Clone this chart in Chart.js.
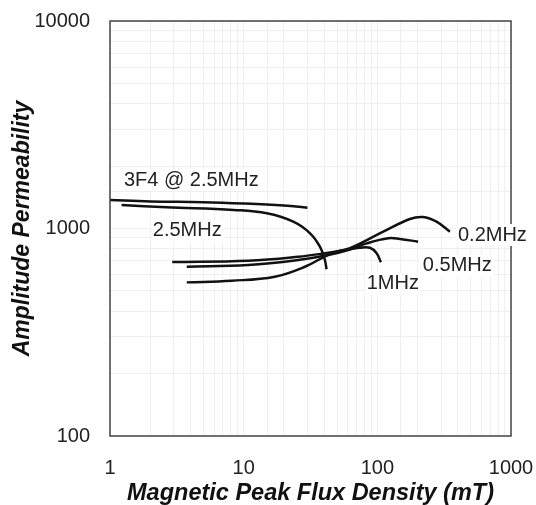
<!DOCTYPE html>
<html>
<head>
<meta charset="utf-8">
<script src="https://cdn.jsdelivr.net/npm/chart.js@4"></script>
<style>
  body { margin: 0; background: #fff; }
</style>
</head>
<body>
<canvas id="chart" width="536" height="505"></canvas>
<script>
// flux density (mT) / amplitude permeability
const f3F4X = [1, 2, 5, 10, 20, 30];
const f3F4Y = [1372, 1350, 1340, 1320, 1290, 1260];

const f25X = [1.22, 2.65, 8.4, 14.9, 23.5, 31.4, 37.2, 40.5, 41.7];
const f25Y = [1298, 1265, 1228, 1184, 1079, 948, 817, 705, 636];

const f1X = [2.92, 10.8, 25.6, 40.5, 57.2, 74.1, 88.1, 98.8, 106.4];
const f1Y = [690, 700, 731, 760, 788, 808, 808, 760, 687];

const f05X = [3.75, 10.8, 25.6, 42.9, 62.4, 83.2, 120.6, 147.6, 202];
const f05Y = [654, 667, 705, 745, 792, 848, 897, 890, 864];

const f02X = [3.75, 8.13, 17.1, 28.7, 45.5, 62.4, 110.7, 175.3, 220, 277, 349];
const f02Y = [550, 560, 586, 654, 760, 803, 965, 1111, 1136, 1079, 965];

const xTickLabels = [1, 10, 100, 1000];
const yTickLabels = [100, 1000, 10000];

// curve labels: text, left x, middle y (data units)
const labelText = ["3F4 @ 2.5MHz", "2.5MHz", "0.2MHz", "0.5MHz", "1MHz"];
const labelX = [1.27, 2.09, 401, 219, 83.2];
const labelY = [1713, 973, 930, 667, 542];

const FONT = "'Liberation Sans', Arial, sans-serif";

function pts(xs, ys) {
  return xs.map((x, i) => ({ x, y: ys[i] }));
}

function curve(xs, ys) {
  return {
    data: pts(xs, ys),
    showLine: true,
    borderColor: "#111",
    borderWidth: 2.5,
    pointRadius: 0,
    tension: 0.4,
    fill: false
  };
}

const frameAndLabels = {
  id: "frameAndLabels",
  afterDatasetsDraw(chart) {
    const { ctx, chartArea: a, scales } = chart;
    ctx.save();
    ctx.strokeStyle = "#444";
    ctx.lineWidth = 1.5;
    ctx.strokeRect(a.left, a.top, a.right - a.left, a.bottom - a.top);

    ctx.font = "20px " + FONT;
    ctx.textBaseline = "middle";
    ctx.textAlign = "left";
    labelText.forEach((t, i) => {
      const px = scales.x.getPixelForValue(labelX[i]);
      const py = scales.y.getPixelForValue(labelY[i]);
      const w = ctx.measureText(t).width;
      ctx.fillStyle = "#fff";
      ctx.fillRect(px - 2, py - 11, w + 4, 22);
      ctx.fillStyle = "#222";
      ctx.fillText(t, px, py);
    });
    ctx.restore();
  }
};

new Chart(document.getElementById("chart"), {
  type: "scatter",
  data: {
    datasets: [
      curve(f3F4X, f3F4Y),
      curve(f25X, f25Y),
      curve(f1X, f1Y),
      curve(f05X, f05Y),
      curve(f02X, f02Y)
    ]
  },
  options: {
    responsive: false,
    animation: false,
    layout: { padding: { top: 21, right: 25, bottom: 0, left: 0 } },
    plugins: {
      legend: { display: false },
      tooltip: { enabled: false }
    },
    scales: {
      x: {
        type: "logarithmic",
        min: 1,
        max: 1000,
        border: { display: false },
        grid: { color: "#efefef", drawTicks: false },
        ticks: {
          autoSkip: false,
          maxRotation: 0,
          padding: 20,
          color: "#222",
          font: { family: FONT, size: 20 },
          callback: v => xTickLabels.includes(v) ? String(v) : ""
        },
        title: {
          display: true,
          text: "Magnetic Peak Flux Density (mT)",
          color: "#111",
          padding: { top: 0, bottom: 0 },
          font: { family: FONT, size: 23.5, weight: "bold", style: "italic", lineHeight: 1 }
        },
        afterFit: s => {
          s.height = 69;
          s.paddingLeft = 0;
          s.paddingRight = 0;
        }
      },
      y: {
        type: "logarithmic",
        min: 100,
        max: 10000,
        border: { display: false },
        grid: { color: "#efefef", drawTicks: false },
        ticks: {
          autoSkip: false,
          padding: 20,
          color: "#222",
          font: { family: FONT, size: 20 },
          callback: v => yTickLabels.includes(v) ? String(v) : ""
        },
        title: {
          display: true,
          text: "Amplitude Permeability",
          color: "#111",
          padding: { top: 9, bottom: 0 },
          font: { family: FONT, size: 23, weight: "bold", style: "italic" }
        },
        afterFit: s => {
          s.width = 110;
          s.paddingTop = 0;
          s.paddingBottom = 0;
        }
      }
    }
  },
  plugins: [frameAndLabels]
});
</script>
</body>
</html>
